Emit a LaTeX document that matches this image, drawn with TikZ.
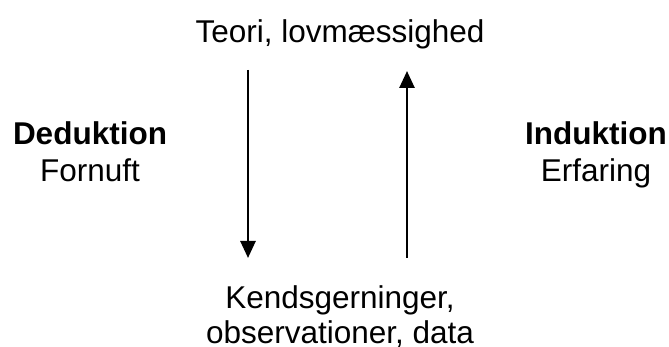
\documentclass[tikz,border=0pt]{standalone}
\usepackage{fontspec}
\setmainfont{Liberation Sans}
\usetikzlibrary{arrows.meta}

\begin{document}
\begin{tikzpicture}[x=1pt,y=1pt,inner sep=0pt,outer sep=0pt,
    every node/.style={font=\fontsize{31.5}{35}\selectfont},
    side/.style={anchor=base,align=center,font=\fontsize{31.5}{37.5}\selectfont},
    flow/.style={line width=2.6pt,-{Triangle[length=17pt,width=15pt]}}]
  \useasboundingbox (0,0) rectangle (669,-347);
  % 
  \node[anchor=base] (teori) at (340,-43) {Teori, lovm\ae ssighed};
  \node[side] (deduk) at (90,-182) {\textbf{Deduktion}\\Fornuft};
  \node[side] (induk) at (596,-182) {\textbf{Induktion}\\Erfaring};
  \node[anchor=base,align=center] (fakta) at (340,-343) {Kendsgerninger,\\observationer, data};
  % arrow ends
  \coordinate (ded_top) at (248,-70);
  \coordinate (ded_bot) at (248,-258);
  \coordinate (ind_top) at (407,-71);
  \coordinate (ind_bot) at (407,-258);
  \draw[flow] (ded_top) -- (ded_bot);
  \draw[flow] (ind_bot) -- (ind_top);
\end{tikzpicture}
\end{document}
